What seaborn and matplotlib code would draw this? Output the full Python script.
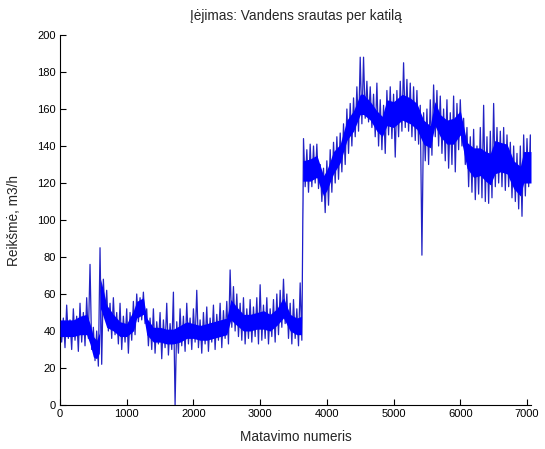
import matplotlib
matplotlib.use("Agg")
import matplotlib.pyplot as plt
import pandas as pd
import seaborn as sns

# Dense part of the flow signal: positions and lower / upper edge, m3/h
core_idx = [0, 100, 200, 300, 400, 450, 500, 550, 590, 610, 700, 800, 900, 1000,
            1100, 1150, 1250, 1300, 1400, 1500, 1600, 1700, 1800, 1900, 2000,
            2100, 2200, 2300, 2400, 2500, 2560, 2650, 2750, 2850, 2950, 3050, 3150,
            3250, 3350, 3450, 3550, 3620, 3640, 3750, 3850, 3950, 4000, 4100,
            4200, 4300, 4400, 4500, 4550, 4650, 4750, 4830, 4900, 5000, 5130, 5250,
            5350, 5450, 5550, 5620, 5700, 5800, 5900, 6000, 6100, 6200, 6300,
            6380, 6450, 6520, 6600, 6700, 6800, 6900, 6950, 7060]
core_lo = [37, 37, 37, 38, 38, 33, 26, 25, 28, 52, 42, 40, 37, 37,
           40, 47, 49, 38, 34, 34, 33, 33, 34, 36, 36,
           35, 35, 36, 37, 38, 46, 43, 40, 40, 41, 41, 40,
           43, 47, 40, 38, 38, 121, 121, 123, 113, 116, 125,
           131, 143, 148, 157, 157, 154, 148, 145, 151, 150, 154, 152,
           149, 141, 139, 151, 145, 141, 141, 146, 128, 123, 124,
           121, 119, 125, 126, 125, 117, 113, 120, 120]
core_hi = [46, 46, 46, 48, 49, 44, 37, 35, 39, 68, 54, 49, 45, 44,
           51, 56, 58, 47, 42, 42, 41, 41, 43, 45, 44,
           43, 44, 45, 46, 47, 57, 53, 49, 49, 50, 51, 49,
           52, 58, 49, 47, 48, 132, 133, 135, 124, 127, 137,
           141, 154, 159, 168, 168, 164, 159, 156, 165, 164, 168, 166,
           163, 154, 151, 164, 157, 154, 155, 159, 142, 139, 139,
           137, 136, 143, 142, 141, 132, 129, 137, 137]

# Full signal every 50 samples: highest and lowest reading in each step, m3/h
trace_idx = list(range(0, 7100, 50))
trace_hi = [50, 47, 54, 46, 52, 48, 55, 50, 58, 76, 42, 40, 85, 68, 62, 55, 58, 50,
            55, 48, 52, 50, 56, 60, 58, 61, 52, 47, 52, 45, 50, 46, 55, 44, 61, 45,
            52, 48, 55, 47, 52, 62, 46, 50, 53, 47, 54, 49, 55, 51, 56, 73, 64, 60,
            55, 58, 52, 57, 53, 58, 65, 54, 58, 52, 57, 60, 62, 68, 60, 55, 57, 52,
            66, 144, 138, 141, 140, 141, 130, 128, 132, 138, 142, 145, 147, 152, 160,
            163, 166, 172, 188, 188, 175, 172, 168, 174, 165, 162, 170, 172, 168, 170,
            175, 185, 176, 174, 172, 170, 162, 158, 160, 165, 173, 170, 167, 160, 165,
            158, 167, 163, 165, 155, 150, 145, 149, 140, 150, 162, 145, 148, 163, 150,
            148, 150, 146, 142, 140, 136, 140, 146, 144, 146]
trace_lo = [34, 31, 36, 30, 35, 29, 34, 32, 36, 30, 24, 21, 22, 48, 40, 36, 38, 33,
            30, 34, 28, 35, 38, 45, 46, 44, 32, 30, 28, 33, 25, 31, 27, 30, 0, 28,
            32, 29, 33, 30, 34, 31, 28, 33, 29, 34, 30, 35, 31, 36, 33, 42, 40, 37,
            35, 33, 36, 34, 37, 33, 35, 36, 33, 37, 34, 38, 42, 44, 36, 33, 36, 32,
            35, 118, 115, 118, 120, 117, 110, 104, 108, 115, 120, 122, 126, 130, 136,
            140, 145, 148, 152, 155, 153, 150, 145, 140, 138, 136, 146, 144, 134, 145,
            148, 150, 148, 145, 143, 141, 81, 132, 130, 135, 145, 140, 136, 132, 128,
            130, 126, 138, 140, 130, 118, 115, 111, 114, 112, 110, 109, 112, 118, 120,
            118, 116, 118, 112, 110, 106, 102, 113, 118, 116]

x_ticks = [0, 1000, 2000, 3000, 4000, 5000, 6000, 7000]
y_ticks = [0, 20, 40, 60, 80, 100, 120, 140, 160, 180, 200]

sns.set_theme(style="white")
plt.rcParams["font.family"] = ["Liberation Sans", "DejaVu Sans"]

fig = plt.figure(figsize=(5.45, 4.49), dpi=100)
ax = fig.add_axes([60 / 545, 44 / 449, 471 / 545, 370 / 449])

# Signal trace: each step swings from its high reading down to its low reading
xs, ys = [], []
for s, hi, lo in zip(trace_idx, trace_hi, trace_lo):
    xs += [s, s + 25]
    ys += [hi, lo]
trace = pd.DataFrame({"n": xs, "q": ys})
sns.lineplot(data=trace, x="n", y="q", sort=False, estimator=None,
             color="#2222c4", lw=0.9, ax=ax, zorder=2)

# Dense core of the signal
ax.fill_between(core_idx, core_lo, core_hi, color="#0000ff", lw=0,
                zorder=3)

ax.set_xlim(0, 7060)
ax.set_ylim(0, 200)
ax.set_xticks(x_ticks)
ax.set_yticks(y_ticks)
ax.tick_params(direction="in", length=4, width=0.8, colors="black",
               labelsize=8, pad=3, left=True, bottom=True)
for side in ("top", "right"):
    ax.spines[side].set_visible(False)
for side in ("left", "bottom"):
    ax.spines[side].set_color("black")
    ax.spines[side].set_linewidth(0.8)

ax.set_title("Įėjimas: Vandens srautas per katilą", fontsize=9.8, pad=11)
ax.set_xlabel("Matavimo numeris", fontsize=9.8, labelpad=8)
ax.set_ylabel("Reikšmė, m3/h", fontsize=9.8, labelpad=12)

fig.savefig("out.png", dpi=100, facecolor="white")
